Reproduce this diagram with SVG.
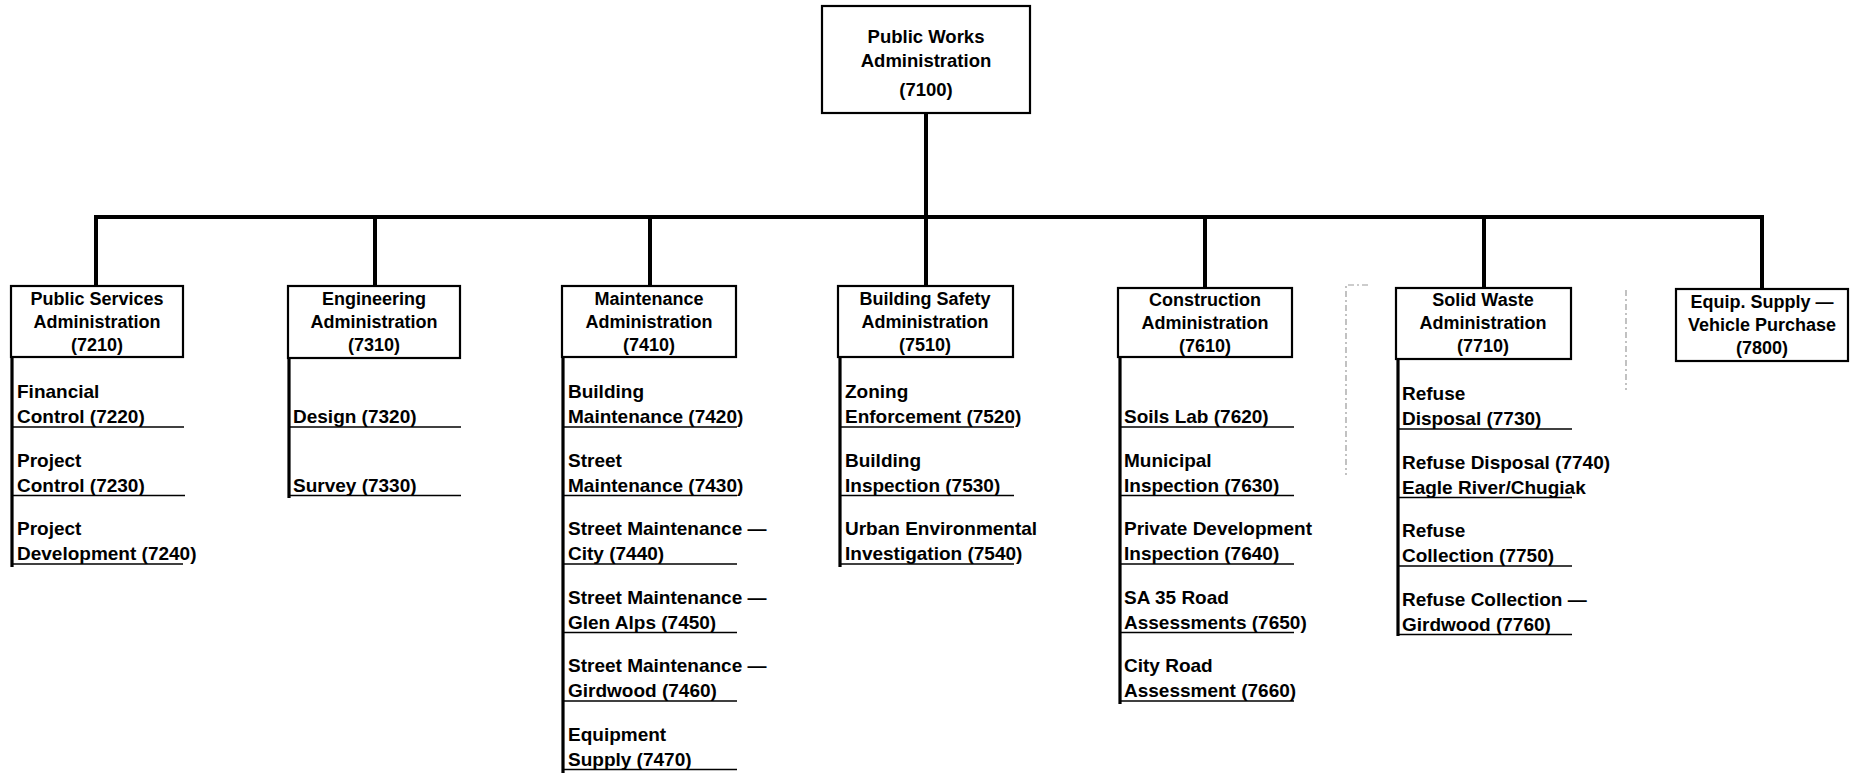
<svg xmlns="http://www.w3.org/2000/svg" width="1854" height="775" viewBox="0 0 1854 775">
<style>
.box{fill:#fff;stroke:#000;stroke-width:2.2}
.bt{font-family:"Liberation Sans",Arial,sans-serif;font-weight:bold;font-size:18px;fill:#000;text-anchor:middle}
.it{font-family:"Liberation Sans",Arial,sans-serif;font-weight:bold;font-size:19px;fill:#000}
.con{stroke:#000;stroke-width:4;fill:none}
.sp{stroke:#000;stroke-width:3.2;fill:none}
.ul{stroke:#000;stroke-width:1.6;fill:none}
.ghost{stroke:#999;stroke-width:1.2;fill:none;stroke-dasharray:6 3 2 3}
</style>
<rect width="1854" height="775" fill="#fff"/>
<g id="connectors">
<line class="con" x1="926" y1="113" x2="926" y2="217"/>
<polyline class="con" points="96,286 96,217 1762,217 1762,289"/>
<line class="con" x1="375" y1="217" x2="375" y2="286"/>
<line class="con" x1="650" y1="217" x2="650" y2="286"/>
<line class="con" x1="926" y1="217" x2="926" y2="286"/>
<line class="con" x1="1205" y1="217" x2="1205" y2="288"/>
<line class="con" x1="1484" y1="217" x2="1484" y2="288"/>
</g>
<g id="n7100">
<rect class="box" x="822" y="6" width="208" height="107"/>
<text class="bt" style="font-size:18.5px" x="926" y="43">Public Works</text>
<text class="bt" style="font-size:18.5px" x="926" y="67">Administration</text>
<text class="bt" style="font-size:18.5px" x="926" y="96">(7100)</text>
</g>
<g id="n7210">
<rect class="box" x="11" y="286" width="172" height="71"/>
<text class="bt" x="97" y="305">Public Services</text>
<text class="bt" x="97" y="328">Administration</text>
<text class="bt" x="97" y="351">(7210)</text>
<line class="sp" x1="12" y1="357" x2="12" y2="567"/>
<line class="ul" x1="12" y1="427" x2="184" y2="427"/>
<line class="ul" x1="12" y1="495.5" x2="185" y2="495.5"/>
<line class="ul" x1="12" y1="564" x2="183" y2="564"/>
<text class="it" x="17" y="398">Financial</text>
<text class="it" x="17" y="423">Control (7220)</text>
<text class="it" x="17" y="466.5">Project</text>
<text class="it" x="17" y="491.5">Control (7230)</text>
<text class="it" x="17" y="535">Project</text>
<text class="it" x="17" y="560">Development (7240)</text>
</g>
<g id="n7310">
<rect class="box" x="288" y="286" width="172" height="72"/>
<text class="bt" x="374" y="305">Engineering</text>
<text class="bt" x="374" y="328">Administration</text>
<text class="bt" x="374" y="351">(7310)</text>
<line class="sp" x1="289" y1="358" x2="289" y2="498"/>
<line class="ul" x1="289" y1="427" x2="461" y2="427"/>
<line class="ul" x1="289" y1="495.5" x2="461" y2="495.5"/>
<text class="it" x="293" y="423">Design (7320)</text>
<text class="it" x="293" y="491.5">Survey (7330)</text>
</g>
<g id="n7410">
<rect class="box" x="562" y="286" width="174" height="71"/>
<text class="bt" x="649" y="305">Maintenance</text>
<text class="bt" x="649" y="328">Administration</text>
<text class="bt" x="649" y="351">(7410)</text>
<line class="sp" x1="563" y1="357" x2="563" y2="773"/>
<line class="ul" x1="563" y1="427" x2="737" y2="427"/>
<line class="ul" x1="563" y1="495.5" x2="737" y2="495.5"/>
<line class="ul" x1="563" y1="564" x2="737" y2="564"/>
<line class="ul" x1="563" y1="632.5" x2="737" y2="632.5"/>
<line class="ul" x1="563" y1="701" x2="737" y2="701"/>
<line class="ul" x1="563" y1="769.5" x2="737" y2="769.5"/>
<text class="it" x="568" y="398">Building</text>
<text class="it" x="568" y="423">Maintenance (7420)</text>
<text class="it" x="568" y="466.5">Street</text>
<text class="it" x="568" y="491.5">Maintenance (7430)</text>
<text class="it" x="568" y="535">Street Maintenance —</text>
<text class="it" x="568" y="560">City (7440)</text>
<text class="it" x="568" y="603.5">Street Maintenance —</text>
<text class="it" x="568" y="628.5">Glen Alps (7450)</text>
<text class="it" x="568" y="672">Street Maintenance —</text>
<text class="it" x="568" y="697">Girdwood (7460)</text>
<text class="it" x="568" y="740.5">Equipment</text>
<text class="it" x="568" y="765.5">Supply (7470)</text>
</g>
<g id="n7510">
<rect class="box" x="838" y="286" width="175" height="71"/>
<text class="bt" x="925" y="305">Building Safety</text>
<text class="bt" x="925" y="328">Administration</text>
<text class="bt" x="925" y="351">(7510)</text>
<line class="sp" x1="840" y1="357" x2="840" y2="567"/>
<line class="ul" x1="840" y1="427" x2="1014" y2="427"/>
<line class="ul" x1="840" y1="495.5" x2="1014" y2="495.5"/>
<line class="ul" x1="840" y1="564" x2="1014" y2="564"/>
<text class="it" x="845" y="398">Zoning</text>
<text class="it" x="845" y="423">Enforcement (7520)</text>
<text class="it" x="845" y="466.5">Building</text>
<text class="it" x="845" y="491.5">Inspection (7530)</text>
<text class="it" x="845" y="535">Urban Environmental</text>
<text class="it" x="845" y="560">Investigation (7540)</text>
</g>
<g id="n7610">
<rect class="box" x="1118" y="288" width="174" height="69"/>
<text class="bt" x="1205" y="306">Construction</text>
<text class="bt" x="1205" y="329">Administration</text>
<text class="bt" x="1205" y="352">(7610)</text>
<line class="sp" x1="1120" y1="357" x2="1120" y2="704"/>
<line class="ul" x1="1120" y1="427" x2="1294" y2="427"/>
<line class="ul" x1="1120" y1="495.5" x2="1294" y2="495.5"/>
<line class="ul" x1="1120" y1="564" x2="1294" y2="564"/>
<line class="ul" x1="1120" y1="632.5" x2="1294" y2="632.5"/>
<line class="ul" x1="1120" y1="701" x2="1294" y2="701"/>
<text class="it" x="1124" y="423">Soils Lab (7620)</text>
<text class="it" x="1124" y="466.5">Municipal</text>
<text class="it" x="1124" y="491.5">Inspection (7630)</text>
<text class="it" x="1124" y="535">Private Development</text>
<text class="it" x="1124" y="560">Inspection (7640)</text>
<text class="it" x="1124" y="603.5">SA 35 Road</text>
<text class="it" x="1124" y="628.5">Assessments (7650)</text>
<text class="it" x="1124" y="672">City Road</text>
<text class="it" x="1124" y="697">Assessment (7660)</text>
</g>
<g id="n7710">
<rect class="box" x="1396" y="288" width="175" height="71"/>
<text class="bt" x="1483" y="306">Solid Waste</text>
<text class="bt" x="1483" y="329">Administration</text>
<text class="bt" x="1483" y="352">(7710)</text>
<line class="sp" x1="1398" y1="359" x2="1398" y2="636"/>
<line class="ul" x1="1398" y1="429" x2="1572" y2="429"/>
<line class="ul" x1="1398" y1="497.5" x2="1572" y2="497.5"/>
<line class="ul" x1="1398" y1="566" x2="1572" y2="566"/>
<line class="ul" x1="1398" y1="634.5" x2="1572" y2="634.5"/>
<text class="it" x="1402" y="400">Refuse</text>
<text class="it" x="1402" y="425">Disposal (7730)</text>
<text class="it" x="1402" y="468.5">Refuse Disposal (7740)</text>
<text class="it" x="1402" y="493.5">Eagle River/Chugiak</text>
<text class="it" x="1402" y="537">Refuse</text>
<text class="it" x="1402" y="562">Collection (7750)</text>
<text class="it" x="1402" y="605.5">Refuse Collection —</text>
<text class="it" x="1402" y="630.5">Girdwood (7760)</text>
</g>
<g id="n7800">
<rect class="box" x="1676" y="289" width="172" height="72"/>
<text class="bt" x="1762" y="308">Equip. Supply —</text>
<text class="bt" x="1762" y="331">Vehicle Purchase</text>
<text class="bt" x="1762" y="354">(7800)</text>
</g>
<g id="artifacts">
<polyline class="ghost" points="1368,285 1346,285 1346,475"/>
<line class="ghost" x1="1626" y1="290" x2="1626" y2="390"/>
</g>
</svg>
